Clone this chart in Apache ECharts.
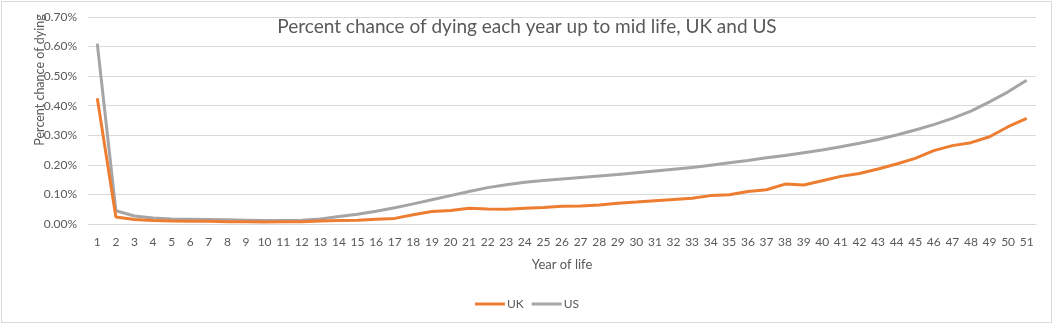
<!DOCTYPE html>
<html><head><meta charset="utf-8">
<script src="https://cdn.jsdelivr.net/npm/echarts@6/dist/echarts.min.js"></script>
<style>
html,body{margin:0;padding:0;background:#fff;}
#frame{position:absolute;left:1px;top:1px;width:1051px;height:322px;border:1px solid #d9d9d9;box-sizing:border-box;}
#c{position:absolute;left:0;top:0;width:1054px;height:326px;}
</style></head>
<body>
<div id="frame"></div>
<div id="c"></div>
<script>
const title = "Percent chance of dying each year up to mid life, UK and US";
const yAxisTitle = "Percent chance of dying";
const xAxisTitle = "Year of life";
const years = [];
for (let i = 1; i <= 51; i++) years.push(String(i));
const ukValues = [0.425,0.024,0.015,0.012,0.010,0.009,0.009,0.008,0.008,0.007,
  0.008,0.008,0.010,0.012,0.013,0.016,0.019,0.031,0.042,0.046,
  0.053,0.051,0.050,0.053,0.056,0.060,0.061,0.064,0.070,0.074,
  0.079,0.083,0.087,0.096,0.099,0.110,0.116,0.135,0.132,0.146,
  0.161,0.171,0.186,0.203,0.222,0.248,0.265,0.275,0.295,0.329,0.357];
const usValues = [0.610,0.045,0.027,0.020,0.017,0.016,0.015,0.014,0.013,0.012,
  0.012,0.013,0.017,0.025,0.033,0.043,0.055,0.068,0.082,0.096,
  0.110,0.123,0.133,0.141,0.147,0.152,0.157,0.162,0.167,0.173,
  0.179,0.185,0.191,0.199,0.207,0.215,0.224,0.232,0.241,0.250,
  0.261,0.273,0.286,0.301,0.318,0.336,0.357,0.382,0.413,0.447,0.486];
const yMin = 0, yMax = 0.7, yStep = 0.1;
const font = 'Lato, "Open Sans", sans-serif';
const txt = '#595959';
const chart = echarts.init(document.getElementById('c'));
chart.setOption({
  animation: false,
  backgroundColor: 'transparent',
  title: { text: title, left: 'center', top: 12, textStyle: { fontFamily: font, fontSize: 19, fontWeight: 'normal', color: txt } },
  legend: { bottom: 11, left: 'center', itemWidth: 30, itemHeight: 3, itemGap: 8, icon: 'rect',
    textStyle: { fontFamily: font, fontSize: 12, color: txt, padding: [0,0,0,-3] },
    data: ['UK','US'] },
  grid: { left: 88, right: 18, top: 17, bottom: 102 },
  graphic: [{ type: 'text', x: 40, y: 80, rotation: Math.PI / 2,
    style: { text: yAxisTitle, fontFamily: font, fontSize: 12.5, fill: txt, align: 'center', verticalAlign: 'middle' } }],
  xAxis: { type: 'category', data: years, boundaryGap: true,
    name: xAxisTitle, nameLocation: 'middle', nameGap: 34,
    nameTextStyle: { fontFamily: font, fontSize: 13, color: txt },
    axisLine: { show: true, lineStyle: { color: '#d9d9d9' } }, axisTick: { show: false },
    axisLabel: { fontFamily: font, fontSize: 12, color: txt, interval: 0, margin: 12 } },
  yAxis: { type: 'value', min: yMin, max: yMax, interval: yStep,
    axisLine: { show: false }, axisTick: { show: false },
    axisLabel: { fontFamily: font, fontSize: 12, color: txt, margin: 11, formatter: v => v.toFixed(2) + '%' },
    splitLine: { lineStyle: { color: '#d9d9d9', width: 1 } } },
  series: [
    { name: 'UK', type: 'line', data: ukValues, showSymbol: false, symbol: 'none', color: '#ED7D31', lineStyle: { width: 3, color: '#ED7D31' }, z: 3 },
    { name: 'US', type: 'line', data: usValues, showSymbol: false, symbol: 'none', color: '#A5A5A5', lineStyle: { width: 3, color: '#A5A5A5' }, z: 2 }
  ]
});
</script>
</body></html>
